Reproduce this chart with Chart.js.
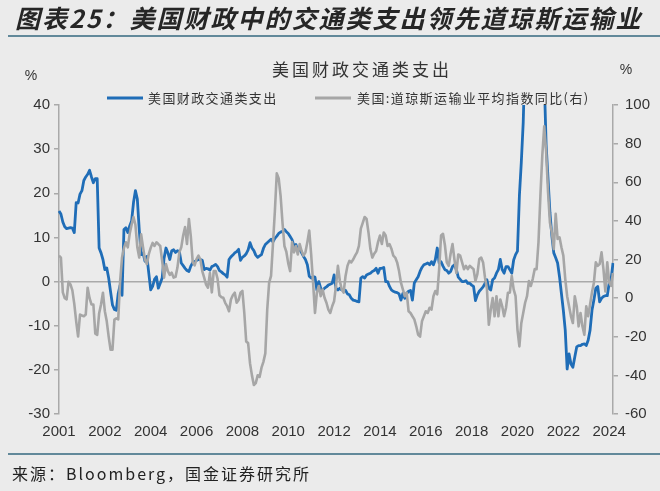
<!DOCTYPE html>
<html>
<head>
<meta charset="utf-8">
<script src="https://cdn.jsdelivr.net/npm/chart.js@4.4.1/dist/chart.umd.min.js"></script>
<style>
  html, body { margin: 0; padding: 0; background: #ebebeb; }
  #wrap { position: relative; width: 660px; height: 491px; overflow: hidden; background: #ebebeb; }
  #head { position: absolute; left: 15px; top: 5px; font: italic 700 25px/25px "Noto Sans CJK SC"; letter-spacing: 2px; color: #262626; white-space: nowrap; }
  .rule { position: absolute; left: 8px; right: 0; height: 2px; background: #62899a; }
  #src { position: absolute; left: 12px; top: 461px; font: 16px "Noto Sans CJK SC"; letter-spacing: 2px; color: #222; white-space: nowrap; }
  canvas { position: absolute; left: 0; top: 0; }
</style>
</head>
<body>
<div id="wrap">
  <canvas id="chart" width="660" height="491"></canvas>
  <div id="head">图表25：美国财政中的交通类支出领先道琼斯运输业</div>
  <div class="rule" style="top:35px"></div>
  <div class="rule" style="top:453px"></div>
  <div id="src">来源：Bloomberg，国金证券研究所</div>
</div>
<script>
// monthly values, one row per year of the axis
const spending = [
  16.0, 15.3, 13.5, 12.4, 12.0, 12.1, 12.2, 12.1, 11.1, 17.9, 17.8, 19.8,
  20.6, 22.9, 23.7, 24.3, 25.2, 23.7, 22.4, 23.3, 23.3, 7.6, 6.5, 5.0,
  2.7, 3.1, 0.8, -2.3, -5.3, -6.3, -6.5, -2.7, -0.8, -3.1, 11.8, 12.2,
  11.1, 12.6, 13.7, 17.9, 20.6, 18.7, 11.8, 6.1, 6.5, 4.6, 5.7, 1.9,
  -1.9, -1.1, 0.5, 1.1, -1.5, -0.4, 0.8, 5.3, 7.6, 6.5, 5.0, 7.0,
  7.2, 6.6, 7.0, 6.8, 4.2, 3.6, 3.0, 2.5, 2.3, 3.5, 4.3, 4.5,
  4.8, 5.0, 5.0, 4.8, 2.7, 3.0, 2.9, 2.6, 3.4, 3.6, 3.9, 3.4,
  2.5, 2.2, 1.8, 1.5, 1.0, 5.0, 5.6, 6.0, 6.5, 6.8, 7.3, 4.8,
  5.5, 5.8, 6.3, 7.2, 8.8, 7.6, 7.0, 6.0, 5.5, 5.8, 6.1, 7.5,
  8.4, 8.8, 9.2, 9.6, 9.0, 9.8, 10.3, 10.9, 11.2, 11.4, 11.8, 11.3,
  10.9, 10.2, 9.5, 8.0, 8.4, 7.0, 7.4, 6.5, 5.7, 5.0, 3.8, 1.2,
  0.8, 1.1, 1.0, -1.9, 0.0, -1.5, -1.9, -1.5, -1.2, -0.8, -0.6, -0.4,
  1.5, -1.5, -1.9, -1.5, -1.9, -1.9, -2.0, -2.8, -3.0, -3.8, -4.2, -4.3,
  -4.5, -4.6, 0.8, 1.1, 0.8, 1.5, 1.7, 1.9, 2.3, 2.5, 3.0, 1.9,
  3.0, 3.0, 3.2, 0.0, 0.0, -1.1, -1.9, -2.2, -2.4, -2.5, -2.8, -4.2,
  -2.7, -3.8, -2.7, -2.2, -2.0, -4.2, -0.3, 0.4, 1.1, 2.3, 3.2, 3.8,
  4.0, 4.2, 3.8, 4.5, 3.8, 5.0, 7.6, 4.2, 4.5, 3.5, 2.7, 2.5,
  1.9, 2.3, 3.4, 3.8, 2.7, 1.0, 0.5, 0.0, 0.0, 0.2, -0.4, -0.4,
  -0.8, -1.1, -4.3, -3.0, -2.2, -1.7, -1.2, -0.4, 0.4, -1.5, -1.9, 0.4,
  0.8, 1.9, 2.7, 5.0, 2.7, 1.9, 3.4, 3.4, 2.7, 1.9, 4.9, 6.1,
  6.9, 19.4, 27, 36, 52, 68, 80, 88, 90, 86, 80, 72,
  64, 56, 46, 31, 23.3, 15.6, 10.3, 6.5, 5.4, 4.2, 1.1, -2.7,
  -6.5, -11, -19.8, -16.4, -18.7, -19.4, -17.1, -14.8, -14.5, -14.5, -14.2, -14.1,
  -14.5, -13.3, -11, -6.5, -4.2, -1.5, -1.1, -4.6, -3.8, -3.4, -3.2, -3.2,
  -0.4, 0.5, 4.2
];

const djtYoY = [
  22, 21, 3, 0, -0.6, 8.5, 7.1, 4, -3, -12, -19.9, -8.5,
  -9, -9.4, -8.5, 5.4, 0, -3.3, -3.3, -18.4, -19, -8, -3.3, 2.8,
  -6.8, -12, -19.9, -26.7, -26.7, -11.1, -10.5, -11, 8.9, 21, 26, 28.9,
  26.3, 33.3, 38, 42, 38, 26.3, 21, 33, 26.3, 20, 17.6, 22.8,
  26, 28.6, 27, 28.9, 28, 27, 19.3, 10.6, 17.6, 14, 12, 13.2,
  10.6, 11, 15.8, 23.7, 26.3, 32.4, 36.8, 28, 41, 32, 18.5, 17,
  20.2, 22, 20, 14, 10.6, 7, 5.4, 13, 3, 14, 14, 10,
  1.5, 0.5, 0.2, -2.4, -4.2, -6.8, -0.7, 1.5, 2.8, -2.4, -1, 2.8,
  3.7, -7.7, -22.5, -23.3, -33.8, -40, -45, -44, -40, -40.8, -36, -33,
  -28.6, -6, 8, 11.5, 28, 45, 64.6, 62, 53, 39, 27, 24,
  18, 14, 29, 23.7, 27, 22.6, 28, 24.4, 22, 23.7, 29, 35,
  22.6, 8, -7.7, 2.8, 6.3, 1, 4.5, 0.2, -2.4, -6, -7.7, -4.2,
  -1.6, 6.3, 16.7, 9, 4.5, 2.8, 11.5, 16.7, 19.3, 18.5, 20, 22,
  23.7, 27, 36, 39, 42, 41, 34, 25.4, 21, 23, 24.4, 29,
  32.4, 28, 34, 32.4, 27, 28, 25.6, 22, 21, 18.5, 14, 8,
  4.5, 1, 2.8, -6.8, -7.7, -9.4, -11, -14.6, -19, -19.9, -12, -9.4,
  -6.8, -7.7, -5, -5.9, 1, 3.7, 2, 15, 32.4, 33.3, 27.5, 18.5,
  16.7, 23, 28, 20, 13, 22.6, 22, 18.5, 15, 16.7, 15, 16.7,
  15.9, 15, 8.9, 12.4, 20.2, 21, 18.5, 10.6, 5, -13.8, -6, 0,
  -9.4, 1, -9.4, -0.7, -4.2, -9.4, -5, 2.8, 2.8, 11.5, 4.5, 1,
  -16.4, -25, -13, -7.7, -2.4, 1, 8.9, 6.3, 10, 15, 15, 29,
  53, 74, 89, 76, 55, 39, 34, 25.4, 43.7, 30.7, 31.5, 26.3,
  22, 10, 1, -4.2, -9.4, -12.9, 1, -4.2, -14.6, -7.7, -14.6, -19,
  -4.2, -9.4, -3.3, 3, 8, 18.5, 16.7, 17.6, 23.7, 15, 3.5, 18.5,
  8, 6.3, 13
];

// axis labels shown every 24 months
const yearLabels = ['2001', '2002', '2004', '2006', '2008', '2010', '2012', '2014', '2016', '2018', '2020', '2022', '2024'];
const seriesNames = ['美国财政交通类支出', '美国:道琼斯运输业平均指数同比(右)'];
const chartTitle = '美国财政交通类支出';

// month categories
const months = [];
for (let i = 0; i < spending.length; i++) {
    months.push((2000 + Math.floor(i / 12)) + '-' + String(i % 12 + 1).padStart(2, '0'));
}

const BLUE = '#1f6db7';
const GREY = '#a6a6a6';
const AXIS = '#a9a9a9';
const TEXT = '#333333';

// title, units and legend drawn on top of the chart
const decor = {
    id: 'decor',
    afterDraw(chart) {
        const ctx = chart.ctx;
        ctx.save();
        ctx.textBaseline = 'middle';
        ctx.fillStyle = TEXT;

        ctx.font = '17px "Noto Sans CJK SC"';
        ctx.letterSpacing = '3px';
        ctx.textAlign = 'center';
        ctx.fillText(chartTitle, 362, 70);

        ctx.letterSpacing = '0px';
        ctx.font = '14px "Liberation Sans"';
        ctx.fillText('%', 31, 76);
        ctx.fillText('%', 626, 70);

        // legend
        ctx.textAlign = 'left';
        ctx.font = '13px "Noto Sans CJK SC"';
        ctx.letterSpacing = '1.4px';
        ctx.lineWidth = 3;
        ctx.strokeStyle = BLUE;
        ctx.beginPath(); ctx.moveTo(107, 98); ctx.lineTo(143, 98); ctx.stroke();
        ctx.fillText(seriesNames[0], 148, 98);
        ctx.strokeStyle = GREY;
        ctx.beginPath(); ctx.moveTo(315, 98); ctx.lineTo(351, 98); ctx.stroke();
        ctx.fillText(seriesNames[1], 357, 98);
        ctx.restore();
    }
};

const tickFont = { family: 'Liberation Sans', size: 15 };

new Chart(document.getElementById('chart').getContext('2d'), {
    type: 'line',
    data: {
        labels: months,
        datasets: [
            {
                label: seriesNames[0],
                data: spending,
                yAxisID: 'y',
                borderColor: BLUE,
                borderWidth: 2.8,
                pointRadius: 0,
                tension: 0,
                borderJoinStyle: 'round',
                order: 1
            },
            {
                label: seriesNames[1],
                data: djtYoY,
                yAxisID: 'y2',
                borderColor: GREY,
                borderWidth: 2.6,
                pointRadius: 0,
                tension: 0,
                borderJoinStyle: 'round',
                order: 0
            }
        ]
    },
    options: {
        responsive: false,
        animation: false,
        layout: { padding: { top: 105, bottom: 41, left: 0, right: 0 } },
        plugins: {
            legend: { display: false },
            title: { display: false },
            tooltip: { enabled: false }
        },
        scales: {
            x: {
                type: 'category',
                grid: { display: false, drawTicks: false },
                border: { display: false },
                ticks: {
                    autoSkip: false,
                    maxRotation: 0,
                    padding: 9,
                    font: tickFont,
                    color: TEXT,
                    callback: (v, i) => (i % 24 === 0 ? yearLabels[i / 24] : null)
                }
            },
            y: {
                position: 'left',
                min: -30,
                max: 40,
                ticks: { stepSize: 10, padding: 4, font: tickFont, color: TEXT },
                grid: {
                    color: c => (c.tick && c.tick.value === 0 ? AXIS : 'rgba(0,0,0,0)'),
                    tickColor: AXIS,
                    tickLength: 5,
                    lineWidth: 1.5
                },
                border: { color: AXIS, width: 1.5 },
                afterFit: s => { s.width = 59; }
            },
            y2: {
                position: 'right',
                min: -60,
                max: 100,
                ticks: { stepSize: 20, padding: 7, font: tickFont, color: TEXT },
                grid: { drawOnChartArea: false, tickColor: AXIS, tickLength: 5, lineWidth: 1.5 },
                border: { color: AXIS, width: 1.5 },
                afterFit: s => { s.width = 47; }
            }
        }
    },
    plugins: [decor]
});
</script>
</body>
</html>
